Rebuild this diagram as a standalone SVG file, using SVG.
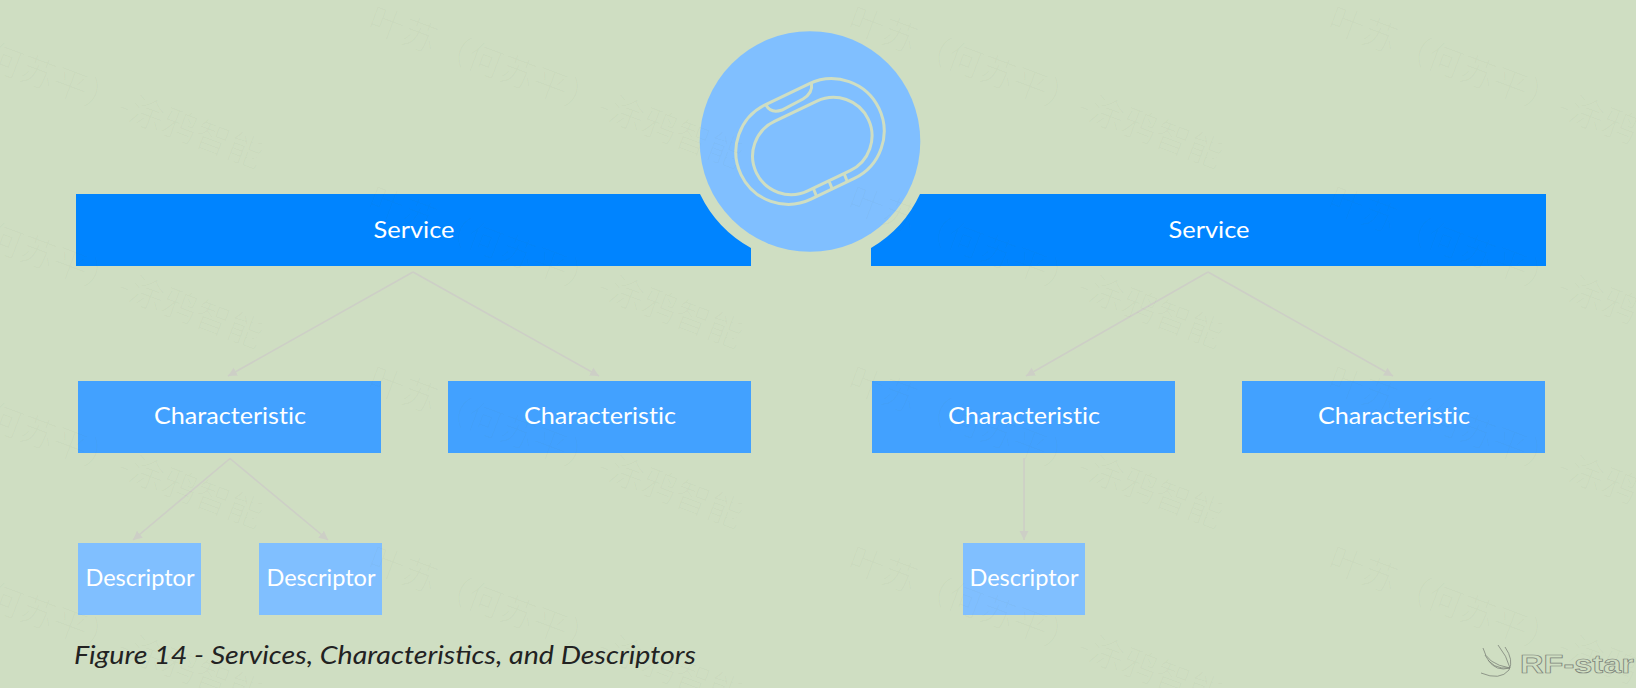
<svg xmlns="http://www.w3.org/2000/svg" width="1636" height="688" viewBox="0 0 1636 688">
<style>
.svc{fill:#0084ff}.chr{fill:#42a1ff}.dsc{fill:#80bfff}
.lbl{font-family:"Lato","Liberation Sans",sans-serif;font-size:24px;fill:#fff;text-anchor:middle;font-variant-ligatures:none}
.band{fill:none;stroke:#cfdec2;stroke-width:3}
.conn{fill:none;stroke:#cdcfc6;stroke-width:1.6;marker-end:url(#arr)}
.wm{font-family:"Noto Sans CJK SC",sans-serif;font-weight:300;font-size:35px;fill:#56664c;fill-opacity:.03}
.logo{font-family:"Liberation Sans",sans-serif;font-weight:700;font-size:26px;fill:#cfdec2;stroke:#7d847a;stroke-width:.7}
</style>
<defs>
<marker id="arr" markerUnits="userSpaceOnUse" markerWidth="11" markerHeight="10" refX="9" refY="5" orient="auto"><path d="M0 .5L9 5L0 9.5z" fill="#cdcfc6"/></marker>
</defs>
<rect width="1636" height="688" fill="#cfdec2"/>
<g id="connectors">
<path class="conn" d="M413 272L228 376"/>
<path class="conn" d="M413 272L599 376"/>
<path class="conn" d="M1208 272L1026 376"/>
<path class="conn" d="M1208 272L1393 376"/>
<path class="conn" d="M230 458.5L133 540"/>
<path class="conn" d="M230 458.5L328 540"/>
<path class="conn" d="M1024 458L1024 540"/>
</g>
<g id="service-left"><path class="svc" d="M76 194H700A122 122 0 0 0 751 248V266H76z"/><text class="lbl" x="414" y="238" textLength="81" lengthAdjust="spacingAndGlyphs">Service</text></g>
<g id="service-right"><path class="svc" d="M1546 194H920A122 122 0 0 1 871 248V266H1546z"/><text class="lbl" x="1209" y="238" textLength="81" lengthAdjust="spacingAndGlyphs">Service</text></g>
<g id="device">
<circle cx="810" cy="141.5" r="110.3" fill="#80bfff"/>
<rect class="band" x="733.5" y="89" width="153" height="105" rx="52.5" transform="rotate(-25.6 810 141.5)"/>
<rect class="band" x="750.3" y="107.5" width="124" height="77" rx="38.5" transform="rotate(-25.6 812.3 146)"/>
<path class="band" d="M766 105Q771 114 782 110L803 99Q813 93 811.5 83.5"/>
<path class="band" d="M813.3 188.3L816.7 196.7M829.3 181.7L832.3 189.3M844.3 174L847.3 181.7"/>
</g>
<g id="char-1"><rect class="chr" x="78" y="381" width="303" height="72"/><text class="lbl" x="230" y="424" textLength="152" lengthAdjust="spacingAndGlyphs">Characteristic</text></g>
<g id="char-2"><rect class="chr" x="448" y="381" width="303" height="72"/><text class="lbl" x="600" y="424" textLength="152" lengthAdjust="spacingAndGlyphs">Characteristic</text></g>
<g id="char-3"><rect class="chr" x="872" y="381" width="303" height="72"/><text class="lbl" x="1024" y="424" textLength="152" lengthAdjust="spacingAndGlyphs">Characteristic</text></g>
<g id="char-4"><rect class="chr" x="1242" y="381" width="303" height="72"/><text class="lbl" x="1394" y="424" textLength="152" lengthAdjust="spacingAndGlyphs">Characteristic</text></g>
<g id="desc-1"><rect class="dsc" x="78" y="543" width="123" height="72"/><text class="lbl" x="140" y="586" textLength="109" lengthAdjust="spacingAndGlyphs">Descriptor</text></g>
<g id="desc-2"><rect class="dsc" x="259" y="543" width="123" height="72"/><text class="lbl" x="321" y="586" textLength="109" lengthAdjust="spacingAndGlyphs">Descriptor</text></g>
<g id="desc-3"><rect class="dsc" x="963" y="543" width="122" height="72"/><text class="lbl" x="1024" y="586" textLength="109" lengthAdjust="spacingAndGlyphs">Descriptor</text></g>
<text x="74" y="664" font-family="Lato,'Liberation Sans',sans-serif" font-style="italic" font-size="25" fill="#222" textLength="622" lengthAdjust="spacingAndGlyphs">Figure 14 - Services, Characteristics, and Descriptors</text>
<g id="watermark">
<text class="wm" transform="translate(-114 29) rotate(20.6)">叶苏（何苏平）-涂鸦智能</text>
<text class="wm" transform="translate(366 29) rotate(20.6)">叶苏（何苏平）-涂鸦智能</text>
<text class="wm" transform="translate(846 29) rotate(20.6)">叶苏（何苏平）-涂鸦智能</text>
<text class="wm" transform="translate(1326 29) rotate(20.6)">叶苏（何苏平）-涂鸦智能</text>
<text class="wm" transform="translate(-114 209) rotate(20.6)">叶苏（何苏平）-涂鸦智能</text>
<text class="wm" transform="translate(366 209) rotate(20.6)">叶苏（何苏平）-涂鸦智能</text>
<text class="wm" transform="translate(846 209) rotate(20.6)">叶苏（何苏平）-涂鸦智能</text>
<text class="wm" transform="translate(1326 209) rotate(20.6)">叶苏（何苏平）-涂鸦智能</text>
<text class="wm" transform="translate(-114 389) rotate(20.6)">叶苏（何苏平）-涂鸦智能</text>
<text class="wm" transform="translate(366 389) rotate(20.6)">叶苏（何苏平）-涂鸦智能</text>
<text class="wm" transform="translate(846 389) rotate(20.6)">叶苏（何苏平）-涂鸦智能</text>
<text class="wm" transform="translate(1326 389) rotate(20.6)">叶苏（何苏平）-涂鸦智能</text>
<text class="wm" transform="translate(-114 569) rotate(20.6)">叶苏（何苏平）-涂鸦智能</text>
<text class="wm" transform="translate(366 569) rotate(20.6)">叶苏（何苏平）-涂鸦智能</text>
<text class="wm" transform="translate(846 569) rotate(20.6)">叶苏（何苏平）-涂鸦智能</text>
<text class="wm" transform="translate(1326 569) rotate(20.6)">叶苏（何苏平）-涂鸦智能</text>
</g>
<g id="logo">
<path d="M1481 673Q1500 681 1509 670Q1514 660 1505 647M1488 660Q1496 672 1510 668Q1507 656 1498 645M1485 655Q1492 670 1510 668M1483 648Q1486 664 1510 668" fill="none" stroke="#7d847a" stroke-width=".8"/>
<text class="logo" x="1520" y="673" textLength="114" lengthAdjust="spacingAndGlyphs">RF-star</text>
</g>
</svg>
